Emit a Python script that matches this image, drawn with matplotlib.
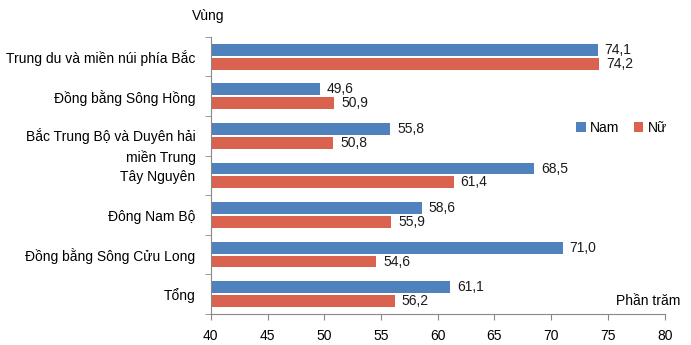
import numpy as np
import matplotlib.pyplot as plt
import matplotlib.transforms as mtransforms

plt.rcParams['font.family'] = ['Liberation Sans', 'DejaVu Sans']

# data
regions = ['Trung du và miền núi phía Bắc', 'Đồng bằng Sông Hồng',
           'Bắc Trung Bộ và Duyên hải\nmiền Trung', 'Tây Nguyên',
           'Đông Nam Bộ', 'Đồng bằng Sông Cửu Long', 'Tổng']
nam = [74.1, 49.6, 55.8, 68.5, 58.6, 71.0, 61.1]
nu = [74.2, 50.9, 50.8, 61.4, 55.9, 54.6, 56.2]

blue = '#4F81BD'
red = '#D9634F'
fs = 10

fig = plt.figure(figsize=(6.91, 3.45), dpi=100)
ax = fig.add_axes([0.305, 0.090, 0.657, 0.803])

y = np.arange(len(regions))
h = 0.3
gap = 0.025
b1 = ax.barh(y - h / 2 - gap, nam, height=h, color=blue, label='Nam')
b2 = ax.barh(y + h / 2 + gap, nu, height=h, color=red, label='Nữ')

for bars, vals in ((b1, nam), (b2, nu)):
    for bar, v in zip(bars, vals):
        ax.annotate(f'{v:.1f}'.replace('.', ','),
                    (v, bar.get_y() + bar.get_height() / 2),
                    xytext=(5, 0), textcoords='offset points',
                    va='center', ha='left', fontsize=fs, color='#1a1a1a')

ax.set_xlim(40, 80)
ax.set_ylim(len(regions) - 0.5, -0.5)
ax.set_xticks(range(40, 81, 5))
ax.tick_params(axis='x', direction='out', length=4, color='#888888',
               labelsize=fs, pad=7)

# category labels centred, ticks on boundaries
ax.set_yticks(y)
ax.set_yticklabels(regions, fontsize=fs, ha='right', multialignment='right')
ax.tick_params(axis='y', which='major', length=0, pad=11)
ax.set_yticks(np.arange(-0.5, len(regions)), minor=True)
ax.tick_params(axis='y', which='minor', direction='out', length=4, color='#888888')
lab = ax.get_yticklabels()[2]
lab.set_linespacing(1.55)
lab.set_transform(lab.get_transform() +
                  mtransforms.ScaledTranslation(0, -4.3 / 72, fig.dpi_scale_trans))

for s in ['top', 'right']:
    ax.spines[s].set_visible(False)
for s in ['left', 'bottom']:
    ax.spines[s].set_color('#888888')
    ax.spines[s].set_linewidth(0.8)

fig.text(0.302, 0.955, 'Vùng', ha='center', va='center', fontsize=fs)
fig.text(0.985, 0.128, 'Phần trăm', ha='right', va='center', fontsize=fs)

ax.legend(loc='center left', bbox_to_anchor=(0.79, 0.672), ncol=2, frameon=False,
          handlelength=0.7, handleheight=0.7, handletextpad=0.3,
          columnspacing=1.0, fontsize=fs, borderpad=0)

fig.savefig('out.png', dpi=100)
